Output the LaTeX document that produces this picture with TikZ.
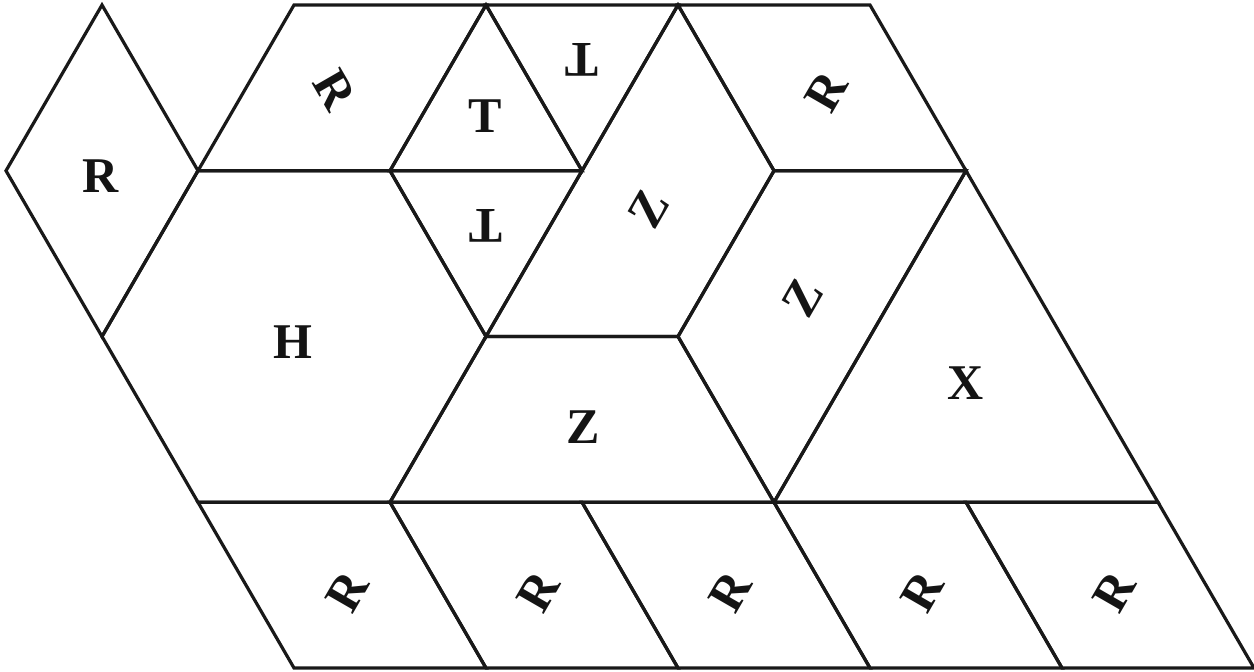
\documentclass[tikz,border=0pt]{standalone}
\usepackage{fontspec}
\setmainfont{Liberation Serif}
\begin{document}
\begin{tikzpicture}[x=0.5pt,y=-0.5pt,
  piece/.style={draw=black!90, line width=1.6pt, line join=miter},
  lbl/.style={font=\fontsize{25}{25}\selectfont\bfseries, inner sep=0pt, text=black!92}]
\useasboundingbox (0,0) rectangle (1254,672);
\foreach \r in {0,...,4}{
  \foreach \i in {0,...,13}{
    \coordinate (v\r-\i) at ({6+96*\i},{5+165.75*\r});
  }
}
% pieces
\draw[piece] (v0-1) -- (v1-2) -- (v2-1) -- (v1-0) -- cycle;
\draw[piece] (v0-3) -- (v0-5) -- (v1-4) -- (v1-2) -- cycle;
\draw[piece] (v0-5) -- (v1-6) -- (v1-4) -- cycle;
\draw[piece] (v0-5) -- (v0-7) -- (v1-6) -- cycle;
\draw[piece] (v1-4) -- (v1-6) -- (v2-5) -- cycle;
\draw[piece] (v1-2) -- (v1-4) -- (v2-5) -- (v3-4) -- (v3-2) -- (v2-1) -- cycle;
\draw[piece] (v0-7) -- (v1-8) -- (v2-7) -- (v2-5) -- (v1-6) -- cycle;
\draw[piece] (v0-7) -- (v0-9) -- (v1-10) -- (v1-8) -- cycle;
\draw[piece] (v1-8) -- (v1-10) -- (v3-8) -- (v2-7) -- cycle;
\draw[piece] (v1-10) -- (v3-12) -- (v3-8) -- cycle;
\draw[piece] (v2-5) -- (v2-7) -- (v3-8) -- (v3-4) -- cycle;
\draw[piece] (v3-2) -- (v3-4) -- (v4-5) -- (v4-3) -- cycle;
\draw[piece] (v3-4) -- (v3-6) -- (v4-7) -- (v4-5) -- cycle;
\draw[piece] (v3-6) -- (v3-8) -- (v4-9) -- (v4-7) -- cycle;
\draw[piece] (v3-8) -- (v3-10) -- (v4-11) -- (v4-9) -- cycle;
\draw[piece] (v3-10) -- (v3-12) -- (v4-13) -- (v4-11) -- cycle;
% labels
\node[lbl] (lR1) at (101,176) {R};
\node[lbl, rotate=-60] (lR2) at (335,90) {R};
\node[lbl] (lT1) at (485,116) {T};
\node[lbl, rotate=180] (lT2) at (582,60) {T};
\node[lbl, rotate=180] (lT3) at (486,226) {T};
\node[lbl] (lH) at (293,342) {H};
\node[lbl, rotate=60] (lZ1) at (649,209) {Z};
\node[lbl, rotate=60] (lR3) at (826,92) {R};
\node[lbl, rotate=60] (lZ2) at (803,298) {Z};
\node[lbl] (lX) at (966,383) {X};
\node[lbl] (lZ3) at (583,427) {Z};
\node[lbl, rotate=60] (lR4) at (347,592) {R};
\node[lbl, rotate=60] (lR5) at (538,592) {R};
\node[lbl, rotate=60] (lR6) at (730,592) {R};
\node[lbl, rotate=60] (lR7) at (922,592) {R};
\node[lbl, rotate=60] (lR8) at (1114,592) {R};
\end{tikzpicture}
\end{document}
